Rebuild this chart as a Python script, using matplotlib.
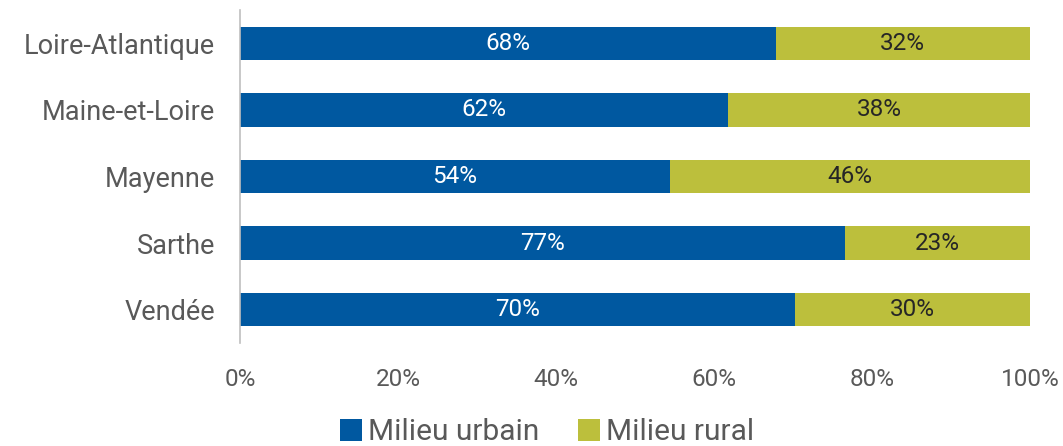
import matplotlib
matplotlib.use("Agg")
import matplotlib.pyplot as plt
import numpy as np

categories = ["Loire-Atlantique", "Maine-et-Loire", "Mayenne", "Sarthe", "Vendée"]
urbain = [67.8, 61.8, 54.4, 76.6, 70.2]
rural = [32.2, 38.2, 45.6, 23.4, 29.8]
xticks = [0, 20, 40, 60, 80, 100]
xticklabels = ["0%", "20%", "40%", "60%", "80%", "100%"]

plt.rcParams['font.family'] = ['Roboto', 'DejaVu Sans']
blue = "#0058A0"
green = "#BCBF3C"
gray = "#595959"

fig = plt.figure(figsize=(10.63, 4.46), dpi=100)
ax = fig.add_axes([240/1063, 1-343/446, (1030-240)/1063, 333/446])

y = np.arange(len(categories))
b1 = ax.barh(y, urbain, height=0.5, color=blue, label="Milieu urbain")
b2 = ax.barh(y, rural, left=urbain, height=0.5, color=green, label="Milieu rural")

for i in range(len(categories)):
    ax.text(urbain[i]/2, y[i], f"{round(urbain[i])}%", ha="center", va="center",
            color="white", fontsize=17.5)
    ax.text(urbain[i] + rural[i]/2, y[i], f"{round(rural[i])}%", ha="center", va="center",
            color="#262626", fontsize=17.5)

ax.set_xlim(0, 100)
ax.set_ylim(len(categories) - 0.5, -0.5)
ax.set_yticks(y)
ax.set_yticklabels(categories, fontsize=19.5, color=gray)
ax.set_xticks(xticks)
ax.set_xticklabels(xticklabels, fontsize=17.5, color=gray)
ax.tick_params(axis="both", length=0)
ax.tick_params(axis="y", pad=18)
ax.tick_params(axis="x", pad=18)
for s in ["top", "right", "bottom"]:
    ax.spines[s].set_visible(False)
ax.spines["left"].set_color("#BFBFBF")
ax.spines["left"].set_linewidth(1.2)

fig.legend(handles=[b1, b2], loc="center", bbox_to_anchor=(547/1063, 1-432/446),
           ncol=2, frameon=False, fontsize=21.5, labelcolor=gray,
           handlelength=0.75, handleheight=0.75, handletextpad=0.2, columnspacing=1.3)

fig.savefig("out.png", dpi=100)
